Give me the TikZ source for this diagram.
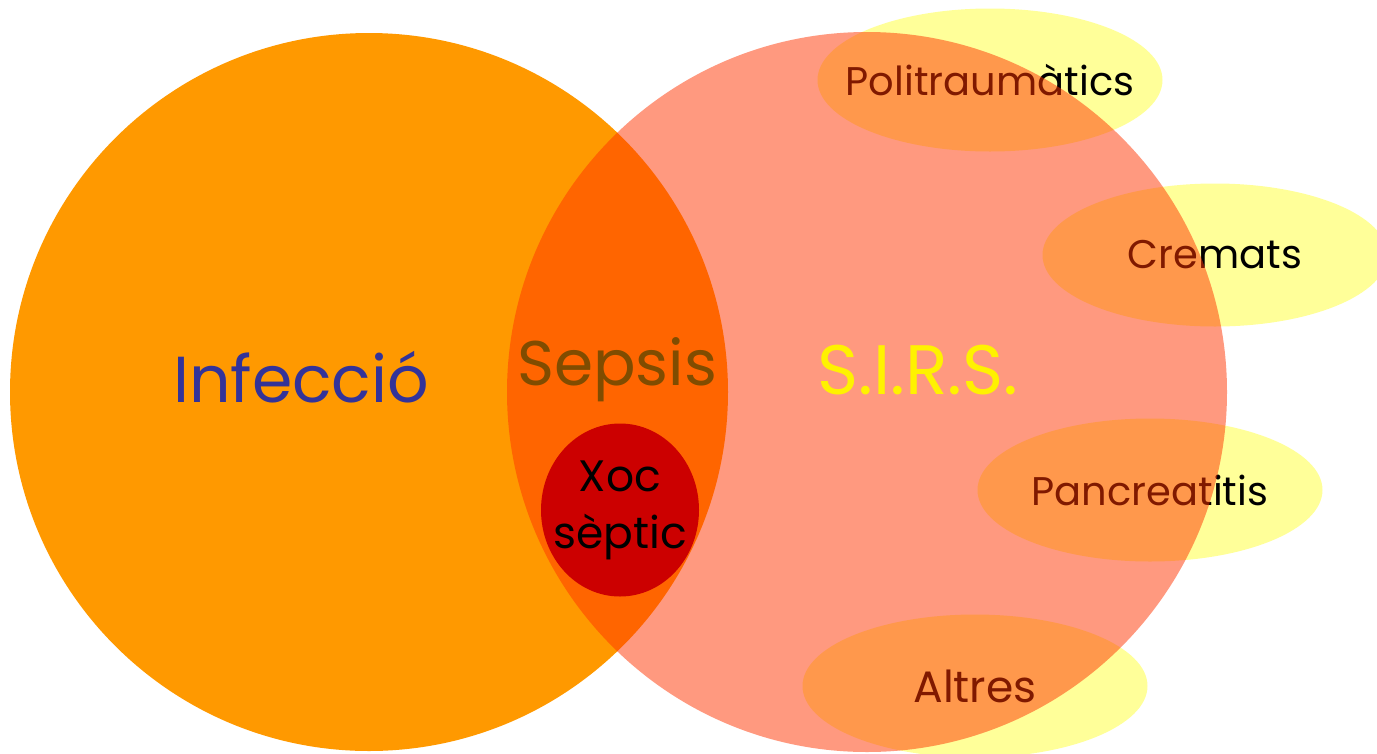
\documentclass[tikz,border=0pt]{standalone}
\usepackage{fontspec}
\setmainfont{Poppins}
\usetikzlibrary{shapes.geometric}
\definecolor{infc}{HTML}{FF9900}
\definecolor{sirsc}{HTML}{FF3300}
\definecolor{ellc}{HTML}{FFFF99}
\definecolor{xocc}{HTML}{CC0000}
\definecolor{infblue}{HTML}{333399}
\definecolor{sepc}{HTML}{006600}
\tikzset{
  elltext/.style={font=\fontsize{40}{42}\selectfont, text=black, inner sep=0pt},
  bigtext/.style={font=\fontsize{63}{65}\selectfont, inner sep=0pt},
  blob/.style={ellipse, inner sep=0pt, fill=ellc, draw=none, minimum width=345pt, minimum height=143pt}
}
\begin{document}
\begin{tikzpicture}[x=1pt,y=-1pt]
\useasboundingbox (0,0) rectangle (1377,753);
\clip (0,0) rectangle (1377,753);
% Infection circle
\fill[infc] (369,392) circle[radius=359];
% ellipses
\node[blob] (ePol) at (990,80) {};
\node[blob] (eCre) at (1215,255) {};
\node[blob] (ePan) at (1150,490) {};
\node[blob] (eAlt) at (975,686) {};
\node[elltext] (tPol) at (ePol) {Politraumàtics};
\node[elltext] (tCre) at (eCre) {Cremats};
\node[elltext] (tPan) at (ePan) {Pancreatitis};
\node[elltext, font=\fontsize{44}{46}\selectfont] (tAlt) at (eAlt) {Altres};
\node[bigtext, text=sepc] (tSep) at (617,370) {Sepsis};
% SIRS circle, translucent
\fill[sirsc, fill opacity=0.5] (867,392) circle[radius=360];
\node[bigtext, text=infblue, font=\fontsize{65}{67}\selectfont] (tInf) at (301,377) {Infecció};
\node[bigtext, text=yellow, font=\fontsize{70}{72}\selectfont] (tSirs) at (918,370) {S.I.R.S.};
% septic shock
\node[ellipse, fill=xocc, inner sep=0pt, minimum width=158pt, minimum height=173pt] (xoc) at (620,510) {};
\node[font=\fontsize{44}{57}\selectfont, align=center, inner sep=0pt] (tXoc) at (xoc) {Xoc\\sèptic};
\end{tikzpicture}
\end{document}
